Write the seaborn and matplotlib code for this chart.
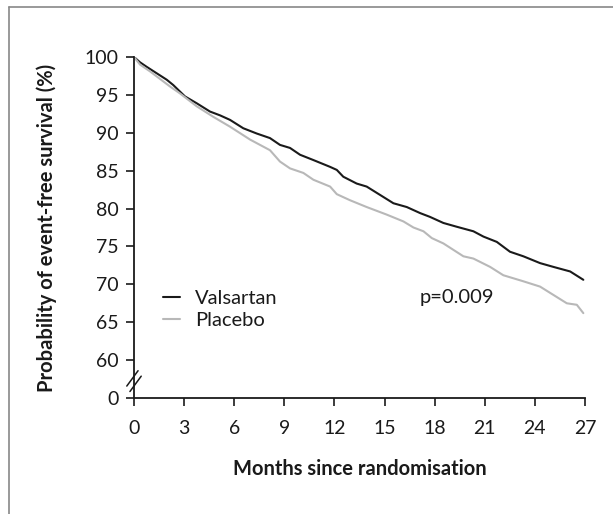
import numpy as np
import pandas as pd
import matplotlib
matplotlib.use("Agg")
import matplotlib.pyplot as plt
from matplotlib.lines import Line2D
import seaborn as sns

# values
valsartan_months = [0, 0.36, 0.76, 1.96, 2.35, 3.05, 3.75, 4.55, 5.15, 5.75, 6.54, 7.35,
                    8.14, 8.74, 9.34, 9.94, 10.74, 11.74, 12.14, 12.53, 13.33, 13.93,
                    14.73, 15.53, 16.33, 17.13, 17.72, 18.52, 19.32, 20.32, 20.92, 21.72,
                    22.51, 23.31, 24.31, 25.11, 26.11, 26.9]
valsartan_surv = [100, 99.3, 98.7, 97.0, 96.3, 94.8, 93.9, 92.8, 92.3, 91.7, 90.6, 89.9,
                  89.3, 88.4, 88.0, 87.1, 86.4, 85.5, 85.1, 84.2, 83.3, 82.9,
                  81.8, 80.7, 80.2, 79.4, 78.9, 78.1, 77.6, 77.0, 76.3, 75.6,
                  74.3, 73.7, 72.8, 72.3, 71.7, 70.6]

placebo_months = [0, 0.36, 0.96, 2.16, 2.75, 3.75, 4.75, 5.75, 6.95, 8.14, 8.74, 9.34,
                  10.14, 10.74, 11.74, 12.14, 12.93, 13.93, 15.13, 16.13, 16.73, 17.33,
                  17.83, 18.52, 19.72, 20.32, 21.32, 22.11, 23.31, 24.31, 25.11, 25.91,
                  26.51, 26.9]
placebo_surv = [100, 99.0, 98.1, 96.1, 95.2, 93.5, 92.1, 90.8, 89.1, 87.7, 86.2, 85.3,
                84.7, 83.8, 82.9, 81.9, 81.1, 80.2, 79.2, 78.3, 77.5, 77.0,
                76.1, 75.4, 73.7, 73.4, 72.3, 71.2, 70.4, 69.7, 68.6, 67.5,
                67.3, 66.2]

x_ticks = [0, 3, 6, 9, 12, 15, 18, 21, 24, 27]
y_ticks = [55, 60, 65, 70, 75, 80, 85, 90, 95, 100]
y_tick_labels = ["0", "60", "65", "70", "75", "80", "85", "90", "95", "100"]

df = pd.concat([
    pd.DataFrame({"month": valsartan_months, "surv": valsartan_surv, "arm": "Valsartan"}),
    pd.DataFrame({"month": placebo_months, "surv": placebo_surv, "arm": "Placebo"}),
])

sns.set_style("ticks")
plt.rcParams["font.family"] = ["Lato", "DejaVu Sans"]
ink = "#1a1a1a"

fig = plt.figure(figsize=(6.13, 5.14), dpi=100)
ax = fig.add_axes([134 / 613, 1 - 398 / 514, 451 / 613, 341 / 514])

sns.lineplot(data=df, x="month", y="surv", hue="arm", palette={"Valsartan": ink, "Placebo": "#b8b8b8"},
             estimator=None, sort=False, linewidth=1.5, ax=ax)

ax.set_xlim(0, 27)
ax.set_ylim(55, 100)
ax.set_xticks(x_ticks)
ax.set_yticks(y_ticks)
ax.set_yticklabels(y_tick_labels)
ax.tick_params(axis="both", direction="out", length=6, width=1.2, color=ink,
               labelsize=14, labelcolor=ink)
ax.tick_params(axis="x", pad=10)
ax.tick_params(axis="y", pad=5)
sns.despine(ax=ax)
for side in ["left", "bottom"]:
    ax.spines[side].set_linewidth(1.3)
    ax.spines[side].set_color(ink)

ax.set_xlabel("Months since randomisation", fontsize=14.5, fontweight="bold", color=ink, labelpad=16)
ax.set_ylabel("Probability of event-free survival (%)", fontsize=14.5, fontweight="bold", color=ink, labelpad=20)

leg = ax.legend(loc="center left", bbox_to_anchor=(0.064, 0.26), frameon=False, fontsize=14.5,
                handlelength=0.85, handletextpad=0.75, labelspacing=0.22, borderpad=0, borderaxespad=0)
for t in leg.get_texts():
    t.set_color(ink)

ax.text(0.634, 0.296, "p=0.009", transform=ax.transAxes, fontsize=14.5, color=ink, va="center")

# axis break marks
for dx, dy in [(0.0, 0.0), (0.007, -0.016)]:
    ax.plot([-0.016 + dx, 0.009 + dx], [0.035 + dy, 0.08 + dy],
            transform=ax.transAxes, color=ink, lw=1.1, clip_on=False)

# outer frame (top and left only)
fig.add_artist(Line2D([9 / 613, 9 / 613], [0, 1 - 7 / 514], transform=fig.transFigure, color="#888888", lw=1.2))
fig.add_artist(Line2D([9 / 613, 1], [1 - 7 / 514, 1 - 7 / 514], transform=fig.transFigure, color="#888888", lw=1.2))

fig.savefig("out.png", dpi=100)
